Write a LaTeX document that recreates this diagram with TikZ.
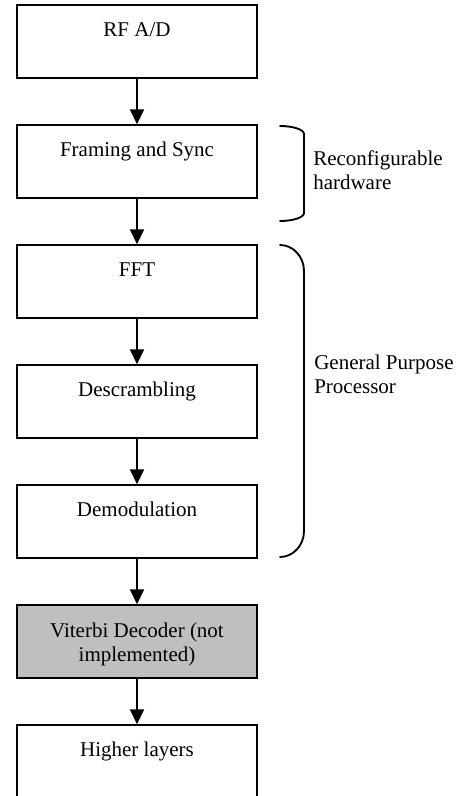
\documentclass[tikz,border=0pt]{standalone}
\usepackage{fontspec}
\setmainfont{Liberation Serif}
\usetikzlibrary{arrows.meta}
\begin{document}
\begin{tikzpicture}[x=0.75pt,y=-0.75pt,
  stage/.style={draw=black, line width=1.5pt, minimum width=180pt,
    minimum height=54.3pt, inner sep=0pt, fill=white},
  greystage/.style={stage, fill=black!25},
  caption/.style={font=\fontsize{15.75}{18.1}\selectfont, inner sep=0pt},
  flow/.style={line width=1.2pt, -{Triangle[length=11.25pt,width=10.5pt]}},
  bracket/.style={line width=1.4pt, line cap=round}]
\useasboundingbox (0,0) rectangle (465,796);

% processing chain
\node[stage] (rf)  at (137,41.5)  {};
\node[stage] (fs)  at (137,161.5) {};
\node[stage] (fft) at (137,281.5) {};
\node[stage] (ds)  at (137,401.5) {};
\node[stage] (dm)  at (137,521.5) {};
\node[greystage] (vd) at (137,641.5) {};
\node[stage] (hl)  at (137,761.5) {};

% stage names, set near the top of each box
\node[caption, anchor=base] (rft)  at (137,36.5)  {RF A/D};
\node[caption, anchor=base] (fst)  at (137,156.5) {Framing and Sync};
\node[caption, anchor=base] (fftt) at (137,276.5) {FFT};
\node[caption, anchor=base] (dst)  at (137,396.5) {Descrambling};
\node[caption, anchor=base] (dmt)  at (137,516.5) {Demodulation};
\node[caption, align=center] (vdt) at (137,644.5) {Viterbi Decoder (not\\implemented)};
\node[caption, anchor=base] (hlt)  at (137,756.5) {Higher layers};

% data flow
\draw[flow] (rf) -- (fs);
\draw[flow] (fs) -- (fft);
\draw[flow] (fft) -- (ds);
\draw[flow] (ds) -- (dm);
\draw[flow] (dm) -- (vd);
\draw[flow] (vd) -- (hl);

% brackets grouping the stages by platform
\draw[bracket] (280,126) .. controls (293.2,126) and (304,129.6) .. (304,134)
  -- (304,213) .. controls (304,217.4) and (293.2,221) .. (280,221);
\draw[bracket] (280,245) .. controls (293.2,245) and (304,256.6) .. (304,271)
  -- (304,531) .. controls (304,545.4) and (293.2,557) .. (280,557);

% group names (base anchor sits on the last line)
\node[caption, anchor=base west, align=left] (rh) at (313,189.5)
  {Reconfigurable\\hardware};
\node[caption, anchor=base west, align=left] (gp) at (314,393.5)
  {General Purpose\\Processor};
\end{tikzpicture}
\end{document}
